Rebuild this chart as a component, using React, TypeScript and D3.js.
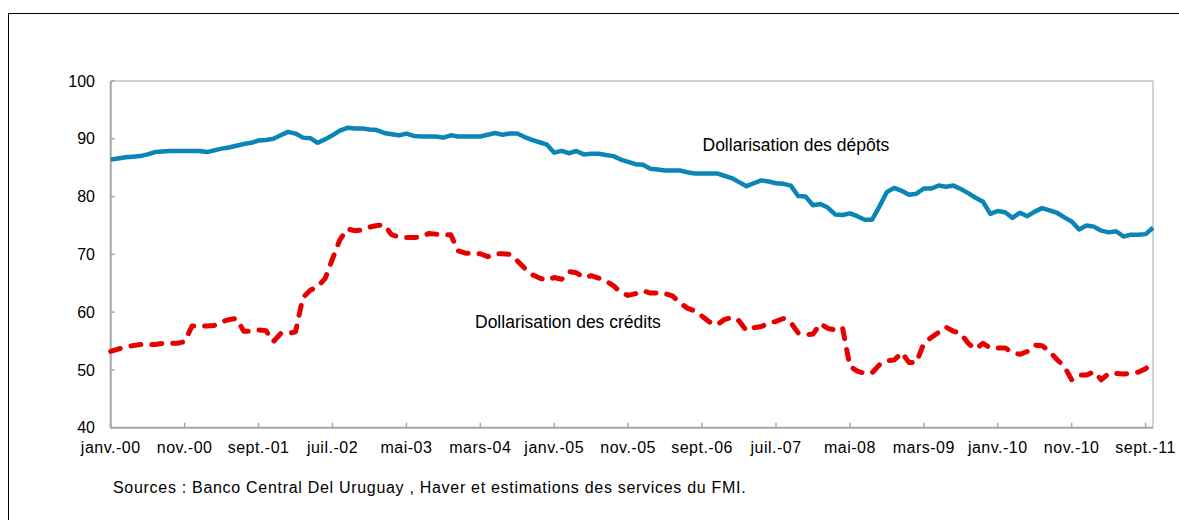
import React from 'react';
import * as d3 from 'd3';

const tickLabels = [
  'janv.-00', 'nov.-00', 'sept.-01', 'juil.-02', 'mai-03', 'mars-04', 'janv.-05',
  'nov.-05', 'sept.-06', 'juil.-07', 'mai-08', 'mars-09', 'janv.-10', 'nov.-10', 'sept.-11',
];
const tickMonthIndex = [0, 10, 20, 30, 40, 50, 60, 70, 80, 90, 100, 110, 120, 130, 140];
const yTicks = [40, 50, 60, 70, 80, 90, 100];

// Monthly, janv.-00 .. oct.-11
const depots = [
  86.4, 86.6, 86.8, 86.9, 87.0, 87.3, 87.7, 87.8, 87.9, 87.9,
  87.9, 87.9, 87.9, 87.7, 88.0, 88.3, 88.5, 88.8, 89.1, 89.3,
  89.7, 89.8, 90.0, 90.6, 91.2, 90.9, 90.2, 90.1, 89.3, 89.9,
  90.6, 91.4, 91.9, 91.8, 91.8, 91.6, 91.5, 91.0, 90.8, 90.6,
  90.9, 90.5, 90.4, 90.4, 90.4, 90.2, 90.6, 90.4, 90.4, 90.4,
  90.4, 90.7, 91.0, 90.7, 90.9, 90.9, 90.3, 89.8, 89.4, 89.0,
  87.6, 87.9, 87.5, 87.9, 87.3, 87.4, 87.4, 87.2, 87.0, 86.4,
  86.0, 85.6, 85.5, 84.8, 84.7, 84.5, 84.5, 84.5, 84.2, 84.0,
  84.0, 84.0, 84.0, 83.6, 83.2, 82.5, 81.8, 82.3, 82.8, 82.6,
  82.3, 82.2, 81.9, 80.1, 80.0, 78.5, 78.7, 78.1, 76.9, 76.8,
  77.1, 76.6, 76.0, 76.0, 78.3, 80.8, 81.5, 81.0, 80.3, 80.5,
  81.4, 81.4, 81.9, 81.7, 81.9, 81.3, 80.6, 79.8, 79.1, 77.0,
  77.5, 77.3, 76.3, 77.2, 76.6, 77.4, 78.0, 77.6, 77.2, 76.4,
  75.7, 74.3, 75.0, 74.8, 74.1, 73.8, 74.0, 73.1, 73.4, 73.4,
  73.5, 74.6,
];

const credits = [
  53.2, 53.6, 54.0, 54.2, 54.4, 54.4, 54.4, 54.6, 54.6, 54.6,
  54.9, 57.6, 57.6, 57.6, 57.7, 58.3, 58.7, 58.9, 56.7, 56.7,
  56.9, 56.8, 54.9, 56.3, 56.3, 56.6, 62.5, 63.8, 64.4, 65.8,
  69.2, 72.5, 74.4, 74.1, 74.2, 74.7, 75.0, 75.1, 73.4, 73.0,
  72.9, 72.9, 73.0, 73.6, 73.5, 73.4, 73.4, 70.6, 70.2, 70.2,
  70.1, 69.6, 70.1, 70.1, 70.0, 68.9, 67.6, 66.5, 65.9, 65.5,
  66.0, 65.7, 67.0, 66.8, 66.0, 66.3, 65.9, 65.4, 64.6, 63.4,
  62.9, 63.2, 63.7, 63.3, 63.3, 63.2, 62.8, 61.6, 60.7, 60.2,
  59.3, 58.3, 57.8, 58.7, 59.1, 58.5, 56.8, 57.3, 57.5, 58.1,
  58.4, 58.9, 58.2, 56.4, 56.1, 56.2, 58.0, 57.2, 56.9, 57.3,
  50.6, 49.8, 49.4, 49.5, 50.9, 51.6, 51.7, 53.0, 51.3, 51.3,
  54.6, 55.6, 56.5, 57.4, 56.7, 56.3, 54.6, 53.6, 54.6, 53.8,
  53.8, 53.8, 53.0, 52.7, 53.2, 54.3, 54.2, 53.2, 51.8, 50.6,
  48.3, 49.1, 49.1, 49.7, 48.3, 49.4, 49.4, 49.3, 49.4, 49.6,
  50.2, 51.5,
];

const seriesLabels = ['Dollarisation des dépôts', 'Dollarisation des crédits'];
const sourceText = 'Sources : Banco Central Del Uruguay , Haver et estimations des services du FMI.';

export default function App() {
  const W = 1179;
  const H = 520;
  const left = 110.7;
  const right = 1153;
  const top = 81;
  const bottom = 427.7;

  const x = d3.scaleLinear().domain([0, depots.length - 1]).range([left, right]);
  const y = d3.scaleLinear().domain([40, 100]).range([bottom, top]);
  const line = d3
    .line<number>()
    .x((_, i) => x(i))
    .y((d) => y(d));

  const font = '"Liberation Sans", Arial, sans-serif';
  const axisColor = '#A6A6A6';

  return (
    <svg
      width={W}
      height={H}
      style={{ position: 'absolute', left: 0, top: 0, background: '#fff' }}
      fontFamily={font}
    >
      <rect x={0} y={0} width={W} height={H} fill="#fff" />
      {/* outer frame */}
      <line x1={8.5} y1={13.5} x2={W} y2={13.5} stroke="#000" strokeWidth={1} />
      <line x1={8.5} y1={13.5} x2={8.5} y2={H} stroke="#000" strokeWidth={1} />

      {/* plot frame top/right */}
      <line x1={left} y1={top} x2={right} y2={top} stroke="#C4C4C4" strokeWidth={1.5} />
      <line x1={right} y1={top} x2={right} y2={bottom} stroke="#C4C4C4" strokeWidth={1.5} />

      {/* y axis */}
      <line x1={left} y1={top} x2={left} y2={bottom} stroke={axisColor} strokeWidth={2} />
      {yTicks.map((t) => (
        <g key={t}>
          <line x1={left} x2={left + 4} y1={y(t)} y2={y(t)} stroke={axisColor} strokeWidth={1.5} />
          <text x={95} y={y(t)} dy="0.35em" textAnchor="end" fontSize={16} fill="#000">
            {t}
          </text>
        </g>
      ))}

      {/* x axis */}
      <line x1={left} y1={bottom} x2={right} y2={bottom} stroke={axisColor} strokeWidth={2} />
      {tickMonthIndex.map((m, k) => (
        <g key={m}>
          <line x1={x(m)} x2={x(m)} y1={bottom} y2={bottom - 5} stroke={axisColor} strokeWidth={1.5} />
          <text
            x={x(m)}
            y={bottom + 25}
            textAnchor="middle"
            fontSize={16}
            letterSpacing={0.5}
            fill="#000"
          >
            {tickLabels[k]}
          </text>
        </g>
      ))}

      {/* series */}
      <path d={line(depots) || ''} fill="none" stroke="#0A85B5" strokeWidth={4.5} strokeLinejoin="round" />
      <path
        d={line(credits) || ''}
        fill="none"
        stroke="#E60000"
        strokeWidth={5}
        strokeDasharray="10 11"
        strokeLinecap="round"
        strokeLinejoin="round"
      />

      {/* annotations */}
      <text x={702.5} y={151} fontSize={17.5} fill="#000">
        {seriesLabels[0]}
      </text>
      <text x={475} y={328} fontSize={17.5} fill="#000">
        {seriesLabels[1]}
      </text>

      <text x={113} y={493} fontSize={16} letterSpacing={0.7} fill="#000">
        {sourceText}
      </text>
    </svg>
  );
}
